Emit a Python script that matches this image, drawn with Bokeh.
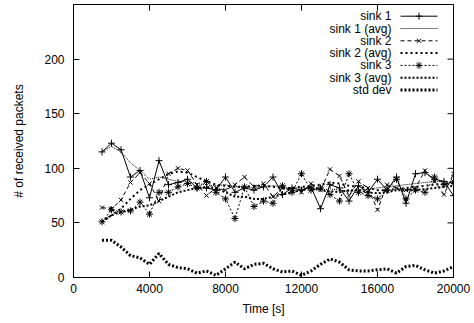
from bokeh.plotting import figure
from bokeh.models import Range1d, FixedTicker, Label
from bokeh.embed import file_html
from bokeh.resources import INLINE

time_s = list(range(1500, 20001, 500))

sink1 = [115, 123, 117, 92, 98, 73, 107, 85, 87, 90, 82, 82, 80, 92, 78, 82, 80, 83, 92,
         76, 82, 80, 83, 63, 85, 82, 70, 84, 78, 90, 80, 92, 68, 95, 96, 90, 88, 75]
sink1_avg = [115, 120, 115, 105, 98, 90, 92, 90, 88, 88, 86, 85, 84, 85, 83, 83, 82, 83, 84,
             83, 82, 82, 82, 80, 81, 80, 79, 80, 81, 82, 83, 84, 85, 86, 87, 88, 88, 86]
sink2 = [64, 63, 71, 87, 96, 86, 70, 95, 100, 98, 85, 75, 82, 80, 85, 92, 83, 86, 74,
         82, 80, 78, 86, 80, 99, 93, 75, 88, 82, 62, 85, 82, 80, 82, 98, 88, 76, 95]
sink2_avg = [51, 57, 63, 72, 80, 85, 90, 95, 97, 96, 92, 88, 85, 84, 83, 83, 84, 84, 83,
             82, 82, 83, 84, 85, 87, 86, 84, 83, 82, 80, 80, 81, 82, 83, 84, 85, 86, 86]
sink3 = [51, 62, 60, 61, 69, 58, 78, 78, 83, 86, 82, 88, 78, 72, 54, 83, 65, 70, 68,
         84, 78, 95, 80, 82, 76, 70, 95, 78, 75, 72, 80, 90, 72, 80, 78, 92, 85, 88]
sink3_avg = [51, 57, 60, 62, 65, 66, 70, 74, 78, 80, 82, 83, 82, 78, 74, 74, 72, 72, 74,
             76, 78, 80, 82, 80, 79, 78, 80, 80, 78, 77, 78, 80, 80, 80, 81, 82, 83, 84]
std_dev = [34, 34, 28, 20, 18, 12, 22, 12, 9, 8, 4, 6, 2, 8, 14, 8, 12, 13, 8,
           5, 6, 2, 6, 12, 17, 14, 7, 6, 6, 7, 8, 4, 10, 11, 7, 4, 6, 10]

series_names = ["sink 1", "sink 1 (avg)", "sink 2", "sink 2 (avg)", "sink 3", "sink 3 (avg)", "std dev"]

x_ticks = [0, 4000, 8000, 12000, 16000, 20000]
y_ticks = [0, 50, 100, 150, 200]
X_MAX, Y_MAX = 20000, 250

FONT = "Liberation Sans"
FS = "12px"
W, H = 474, 323
B_LEFT, B_RIGHT, B_TOP, B_BOTTOM = 73, 21, 4, 46
FRAME_W = W - B_LEFT - B_RIGHT
FRAME_H = H - B_TOP - B_BOTTOM

p = figure(width=W, height=H, output_backend="svg", toolbar_location=None,
           x_range=Range1d(0, X_MAX), y_range=Range1d(0, Y_MAX),
           min_border_left=B_LEFT, min_border_right=B_RIGHT,
           min_border_top=B_TOP, min_border_bottom=B_BOTTOM)
p.outline_line_color = "black"
p.outline_line_width = 1
p.grid.visible = False

for ax in (p.xaxis[0], p.yaxis[0]):
    ax.major_tick_in = 6
    ax.major_tick_out = 0
    ax.minor_tick_in = 0
    ax.minor_tick_out = 0
    ax.axis_line_color = "black"
    ax.major_tick_line_color = "black"
    ax.major_label_text_font = FONT
    ax.major_label_text_font_size = FS
    ax.major_label_text_color = "black"
    ax.axis_label_text_font = FONT
    ax.axis_label_text_font_size = FS
    ax.axis_label_text_font_style = "normal"
    ax.axis_label_text_color = "black"

p.xaxis.ticker = FixedTicker(ticks=x_ticks)
p.yaxis.ticker = FixedTicker(ticks=y_ticks)
p.xaxis.axis_label = "Time [s]"
p.yaxis.axis_label = "# of received packets"
p.xaxis.major_label_standoff = 6
p.yaxis.major_label_standoff = 9
p.xaxis.axis_label_standoff = 6
p.yaxis.axis_label_standoff = 15

# helpers: pixel (within image) -> data, for decoration only
def dx(px):
    return (px - B_LEFT) / FRAME_W * X_MAX

def dy(py):
    return (H - B_BOTTOM - py) / FRAME_H * Y_MAX

TICK = 6
# mirrored ticks on top and right edges
p.segment(x0=x_ticks, y0=[Y_MAX] * len(x_ticks), x1=x_ticks,
          y1=[Y_MAX - TICK / FRAME_H * Y_MAX] * len(x_ticks), line_color="black", line_width=1)
p.segment(x0=[X_MAX] * len(y_ticks), y0=y_ticks, x1=[X_MAX - TICK / FRAME_W * X_MAX] * len(y_ticks),
          y1=y_ticks, line_color="black", line_width=1)

styles = [
    dict(data=sink1, width=1, dash="solid", marker="cross", msize=7),
    dict(data=sink1_avg, width=1, dash="1 1", marker=None, msize=0),
    dict(data=sink2, width=1, dash="4 3", marker="x", msize=6),
    dict(data=sink2_avg, width=2, dash="2 3", marker=None, msize=0),
    dict(data=sink3, width=1, dash="2 2", marker="asterisk", msize=7),
    dict(data=sink3_avg, width=2, dash="2 2", marker=None, msize=0),
    dict(data=std_dev, width=3, dash="2 2", marker=None, msize=0),
]

LEG_TEXT_X = 391
LEG_S0, LEG_S1 = 400, 437
LEG_Y0, LEG_DY = 15.7, 12.3

for i, (name, st) in enumerate(zip(series_names, styles)):
    p.line(time_s, st["data"], line_color="black", line_width=st["width"], line_dash=st["dash"])
    if st["marker"]:
        p.scatter(time_s, st["data"], marker=st["marker"], size=st["msize"],
                  line_color="black", line_width=1)
    # legend entry
    ly = dy(LEG_Y0 + i * LEG_DY)
    p.add_layout(Label(x=dx(LEG_TEXT_X), y=ly, text=name, text_align="right",
                       text_baseline="middle", text_font=FONT, text_font_size=FS,
                       text_color="black"))
    p.line([dx(LEG_S0), dx(LEG_S1)], [ly, ly], line_color="black",
           line_width=st["width"], line_dash=st["dash"])
    if st["marker"]:
        p.scatter([dx((LEG_S0 + LEG_S1) / 2)], [ly], marker=st["marker"], size=st["msize"],
                  line_color="black", line_width=1)

open("out.html", "w").write(file_html(p, INLINE))
